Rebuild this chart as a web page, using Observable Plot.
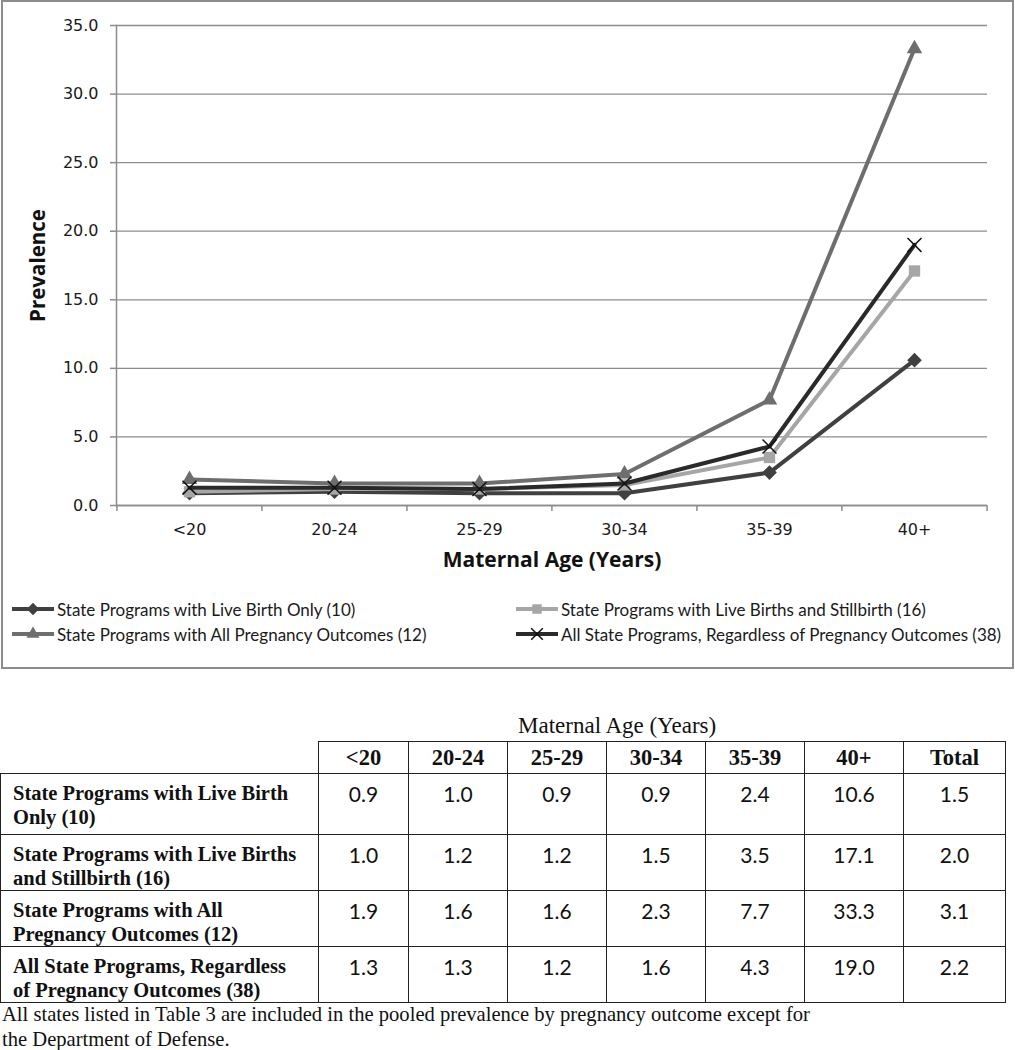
<!DOCTYPE html>
<html>
<head>
<meta charset="utf-8">
<script src="https://cdn.jsdelivr.net/npm/d3@7"></script>
<script src="https://cdn.jsdelivr.net/npm/@observablehq/plot@0.6"></script>
<style>
  body { margin: 0; background: #fff; width: 1015px; height: 1050px; position: relative; overflow: hidden; }
  #frame { position: absolute; left: 1px; top: 0px; width: 1013px; height: 669px; border: 2px solid #8c8c8c; box-sizing: border-box; }
  #chart { position: absolute; left: 0; top: 0; }
  .leg { position: absolute; font-family: Lato, "Open Sans", sans-serif; font-size: 17px; color: #1a1a1a; display: flex; align-items: center; white-space: nowrap; }
  .leg svg { margin-right: 3px; }
  #tcap { position: absolute; left: 518px; top: 713px; font-family: "Liberation Serif", serif; font-size: 23px; color: #111; }
  #tbl { position: absolute; left: 0; top: 741px; border-collapse: collapse; font-family: "Liberation Serif", serif; color: #111; table-layout: fixed; }
  #tbl td, #tbl th { border: 1.5px solid #222; padding: 0; }
  #tbl th { font-weight: bold; font-size: 22.5px; text-align: center; height: 31px; }
  #tbl th.blank { border: none; border-bottom: 1.5px solid #222; }
  #tbl td.lab { font-weight: bold; font-size: 20.5px; text-align: left; vertical-align: top; padding: 7px 0 0 12px; line-height: 24px; }
  #tbl td.val { font-family: Lato, "Open Sans", sans-serif; font-size: 21px; text-align: center; vertical-align: top; padding-top: 7px; }
  #foot { position: absolute; left: 2px; top: 1002px; width: 830px; font-family: "Liberation Serif", serif; font-size: 20.6px; line-height: 25px; color: #111; }
</style>
</head>
<body>
<div id="frame"></div>
<div id="chart"></div>
<div id="legend"></div>
<div id="tcap">Maternal Age (Years)</div>
<table id="tbl"></table>
<div id="foot">All states listed in Table 3 are included in the pooled prevalence by pregnancy outcome except for the Department of Defense.</div>
<script>
// ---- data ----
const ages = ["<20", "20-24", "25-29", "30-34", "35-39", "40+"];
const seriesNames = [
  "State Programs with Live Birth Only (10)",
  "State Programs with Live Births and Stillbirth (16)",
  "State Programs with All Pregnancy Outcomes (12)",
  "All State Programs, Regardless of Pregnancy Outcomes (38)"
];
const tableLabels = [
  ["State Programs with Live Birth", "Only (10)"],
  ["State Programs with Live Births", "and Stillbirth (16)"],
  ["State Programs with All", "Pregnancy Outcomes (12)"],
  ["All State Programs, Regardless", "of Pregnancy Outcomes (38)"]
];
const liveBirthOnly = [0.9, 1.0, 0.9, 0.9, 2.4, 10.6];
const liveBirthsStillbirth = [1.0, 1.2, 1.2, 1.5, 3.5, 17.1];
const allOutcomes = [1.9, 1.6, 1.6, 2.3, 7.7, 33.3];
const allPrograms = [1.3, 1.3, 1.2, 1.6, 4.3, 19.0];
const totals = [1.5, 2.0, 3.1, 2.2];
const yTicks = [0, 5, 10, 15, 20, 25, 30, 35];
const totalLabel = "Total";

// ---- styles ----
const seriesValues = [liveBirthOnly, liveBirthsStillbirth, allOutcomes, allPrograms];
const lineColors = ["#404040", "#a6a6a6", "#6e6e6e", "#2a2a2a"];
const symbols = ["diamond2", "square2", "triangle2", "times"];
const symR = [6.6, 7.2, 7.4, 6.4];

const rows = [];
seriesValues.forEach((vals, s) => vals.forEach((v, i) => rows.push({series: seriesNames[s], s, age: ages[i], value: v})));

const W = 1015, H = 590, mL = 116, mR = 28, mT = 25, mB = 85;
const step = (W - mL - mR) / ages.length;
const gridColor = "#8c8c8c";

const marks = [
  Plot.gridY(yTicks, {stroke: gridColor, strokeOpacity: 1, strokeWidth: 1.3}),
  Plot.ruleY([0], {stroke: gridColor, strokeWidth: 1.5}),
  Plot.frame({anchor: "left", stroke: gridColor, strokeWidth: 1.5}),
  Plot.axisY({ticks: yTicks, tickSize: 6, tickPadding: 12, tickFormat: d3.format(".1f"), label: null, stroke: gridColor, strokeWidth: 1.5}),
  Plot.axisX({ticks: ages, tickSize: 0, tickPadding: 18, label: null}),
  Plot.axisX({ticks: ages, tickSize: 6, tickFormat: () => "", label: null, dx: -step / 2, stroke: gridColor, strokeWidth: 1.5}),
  Plot.axisX({ticks: [ages[ages.length - 1]], tickSize: 6, tickFormat: () => "", label: null, dx: step / 2, stroke: gridColor, strokeWidth: 1.5}),
  Plot.text(["Maternal Age (Years)"], {frameAnchor: "bottom", dy: 61, fontWeight: "bold", fontSize: 21, fontFamily: "Open Sans", fill: "#111"}),
  Plot.text(["Prevalence"], {frameAnchor: "left", textAnchor: "middle", dx: -78, rotate: -90, fontWeight: "bold", fontSize: 20.5, fontFamily: "Open Sans", fill: "#111"})
];
seriesNames.forEach((name, s) => {
  const d = rows.filter(r => r.s === s);
  marks.push(Plot.line(d, {x: "age", y: "value", stroke: lineColors[s], strokeWidth: 4}));
  if (symbols[s] === "times") {
    marks.push(Plot.dot(d, {x: "age", y: "value", symbol: "times", r: symR[s], stroke: "#111", strokeWidth: 1.5}));
  } else {
    marks.push(Plot.dot(d, {x: "age", y: "value", symbol: symbols[s], r: symR[s], fill: lineColors[s], stroke: "none"}));
  }
});

const chart = Plot.plot({
  width: W, height: H,
  marginLeft: mL, marginRight: mR, marginTop: mT, marginBottom: mB,
  style: {fontFamily: "DejaVu Sans", fontSize: "16px", color: "#1a1a1a", background: "transparent"},
  x: {type: "point", domain: ages, padding: 0.5},
  y: {domain: [0, 35]},
  marks
});
document.getElementById("chart").appendChild(chart);

// ---- legend ----
const legPos = [[12, 609], [516, 609], [12, 634], [516, 634]];
const legend = document.getElementById("legend");
seriesNames.forEach((name, s) => {
  const div = document.createElement("div");
  div.className = "leg";
  div.style.left = legPos[s][0] + "px";
  div.style.top = (legPos[s][1] - 12) + "px";
  div.style.height = "24px";
  const sym = d3.symbol(d3["symbol" + symbols[s].charAt(0).toUpperCase() + symbols[s].slice(1)], Math.PI * symR[s] * symR[s] * 0.7)();
  const svg = `<svg width="42" height="24"><line x1="0" x2="42" y1="12" y2="12" stroke="${lineColors[s]}" stroke-width="4"/>` +
    (symbols[s] === "times"
      ? `<path transform="translate(21,12)" d="${sym}" stroke="#111" stroke-width="1.5" fill="none"/>`
      : `<path transform="translate(21,12)" d="${sym}" fill="${lineColors[s]}"/>`) + `</svg>`;
  div.innerHTML = svg + `<span>${name}</span>`;
  legend.appendChild(div);
});

// ---- table ----
const colW = [318, 90, 99, 99, 99, 99, 99, 102];
const tbl = document.getElementById("tbl");
let html = "<colgroup>" + colW.map(w => `<col style="width:${w}px">`).join("") + "</colgroup>";
html += "<tr><th class='blank'></th>" + ages.map(a => `<th>${a.replace("<", "&lt;")}</th>`).join("") + `<th>${totalLabel}</th></tr>`;
const rowH = [61, 55, 55, 55];
seriesValues.forEach((vals, s) => {
  html += `<tr style="height:${rowH[s]}px"><td class="lab">${tableLabels[s][0]}<br>${tableLabels[s][1]}</td>` +
    vals.map(v => `<td class="val">${v.toFixed(1)}</td>`).join("") + `<td class="val">${totals[s].toFixed(1)}</td></tr>`;
});
tbl.innerHTML = html;
</script>
</body>
</html>
